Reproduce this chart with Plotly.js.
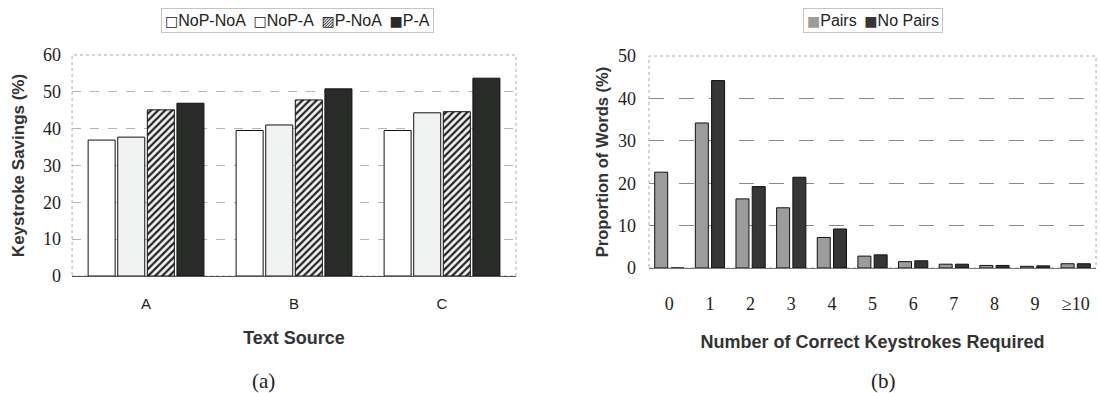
<!DOCTYPE html>
<html><head><meta charset="utf-8">
<script src="https://cdn.plot.ly/plotly-3.0.1.min.js"></script>
<style>html,body{margin:0;padding:0;background:#fff}#chart{width:1100px;height:393px}</style>
</head><body><div id="chart"></div>
<script>
// Panel (a): keystroke savings by text source
const sources = ['A', 'B', 'C'];
const seriesA = ['NoP-NoA', 'NoP-A', 'P-NoA', 'P-A'];
const nopNoa = [36.9, 39.5, 39.5];
const nopA = [37.7, 41.0, 44.3];
const pNoa = [45.1, 47.8, 44.6];
const pA = [46.9, 50.8, 53.7];
// Panel (b): proportion of words by correct keystrokes required
const keystrokes = ['0', '1', '2', '3', '4', '5', '6', '7', '8', '9', '≥10'];
const seriesB = ['Pairs', 'No Pairs'];
const pairs = [22.6, 34.2, 16.3, 14.2, 7.2, 2.8, 1.5, 0.9, 0.6, 0.4, 1.0];
const noPairs = [0, 44.2, 19.2, 21.4, 9.2, 3.1, 1.7, 0.9, 0.6, 0.5, 1.0];

const serif = 'Liberation Serif, Times New Roman, serif';
const sans = 'Liberation Sans, Arial, sans-serif';
const edge = {color: '#111', width: 1};

const colA = ['#ffffff', '#f1f3f3', '#ffffff', '#292b29'];
const colB = ['#9c9c9c', '#353735'];

const traces = [
  {type: 'bar', name: seriesA[0], x: sources, y: nopNoa, xaxis: 'x', yaxis: 'y', showlegend: false,
   marker: {color: colA[0], line: edge}},
  {type: 'bar', name: seriesA[1], x: sources, y: nopA, xaxis: 'x', yaxis: 'y', showlegend: false,
   marker: {color: colA[1], line: edge}},
  {type: 'bar', name: seriesA[2], x: sources, y: pNoa, xaxis: 'x', yaxis: 'y', showlegend: false,
   marker: {color: colA[2], line: edge, pattern: {shape: '/', fgcolor: '#222', bgcolor: '#f4f4f4', size: 5, solidity: 0.45}}},
  {type: 'bar', name: seriesA[3], x: sources, y: pA, xaxis: 'x', yaxis: 'y', showlegend: false,
   marker: {color: colA[3], line: edge}},
  {type: 'bar', name: seriesB[0], x: keystrokes, y: pairs, xaxis: 'x2', yaxis: 'y2', showlegend: false,
   marker: {color: colB[0], line: edge}},
  {type: 'bar', name: seriesB[1], x: keystrokes, y: noPairs, xaxis: 'x2', yaxis: 'y2', showlegend: false,
   marker: {color: colB[1], line: edge}}
];

const gapA = 0.27, gapB = 0.36;
traces.slice(0, 4).forEach(t => { t.width = (1 - gapA) / 4; });
traces.slice(4).forEach(t => { t.width = (1 - gapB) / 2; });

const box = (xr, yr) => ({type: 'rect', xref: xr + ' domain', yref: yr + ' domain', x0: 0, x1: 1, y0: 0, y1: 1,
  line: {color: '#aaa', width: 1, dash: 'dot'}, layer: 'below'});

const sp = '\u00a0\u2009';
const sq = (glyph, color) => '<span style="color:' + color + ';font-family:DejaVu Sans;font-size:14px">' + glyph + '</span>';
const legendA = sq('□', '#222') + seriesA[0] + sp + sq('□', '#222') + seriesA[1] + sp +
  sq('▨', '#222') + seriesA[2] + sp + sq('■', colA[3]) + seriesA[3];
const legendB = sq('■', colB[0]) + seriesB[0] + sp + sq('■', colB[1]) + seriesB[1];

const layout = {
  width: 1100, height: 393,
  margin: {l: 0, r: 0, t: 0, b: 0},
  paper_bgcolor: '#fff', plot_bgcolor: '#fff',
  barmode: 'group', bargroupgap: 0,
  showlegend: false,
  font: {family: sans, color: '#222'},
  xaxis: {domain: [0.0655, 0.4691], anchor: 'y', type: 'category',
    tickfont: {family: sans, size: 15, color: '#222'}, ticks: '', ticklabelstandoff: 14,
    showline: true, linecolor: '#555', linewidth: 1, showgrid: false,
    title: {text: '<b>Text Source</b>', font: {family: sans, size: 18, color: '#333'}, standoff: 20}},
  yaxis: {domain: [0.2977, 0.8601], anchor: 'x', range: [0, 60], dtick: 10,
    tickfont: {family: serif, size: 18, color: '#222'}, ticks: '', ticklabelstandoff: 10,
    showgrid: true, gridcolor: '#b5b5b5', griddash: 'dash', zeroline: false,
    title: {text: '<b>Keystroke Savings (%)</b>', font: {family: sans, size: 17, color: '#333'}, standoff: 14}},
  xaxis2: {domain: [0.59, 0.9964], anchor: 'y2', type: 'category',
    tickfont: {family: serif, size: 18, color: '#222'}, ticks: '', ticklabelstandoff: 19,
    showline: true, linecolor: '#777', linewidth: 1, showgrid: false,
    title: {text: '<b>Number of Correct Keystrokes Required</b>', font: {family: sans, size: 18, color: '#333'}, standoff: 22}},
  yaxis2: {domain: [0.3181, 0.8575], anchor: 'x2', range: [0, 50], dtick: 10,
    tickfont: {family: serif, size: 18, color: '#222'}, ticks: '', ticklabelstandoff: 12,
    showgrid: true, gridcolor: '#8a8a8a', griddash: 'longdash', zeroline: false,
    title: {text: '<b>Proportion of Words (%)</b>', font: {family: sans, size: 16.5, color: '#333'}, standoff: 5}},
  shapes: [box('x', 'y'), box('x2', 'y2')],
  annotations: [
    {text: legendA, xref: 'paper', yref: 'paper', x: 297 / 1100, y: 1 - 21 / 393, xanchor: 'center', yanchor: 'middle',
     showarrow: false, bordercolor: '#c4c4c4', borderwidth: 1, borderpad: 3, bgcolor: '#fff',
     font: {family: sans, size: 16, color: '#222'}},
    {text: legendB, xref: 'paper', yref: 'paper', x: 873 / 1100, y: 1 - 21 / 393, xanchor: 'center', yanchor: 'middle',
     showarrow: false, bordercolor: '#c4c4c4', borderwidth: 1, borderpad: 3, bgcolor: '#fff',
     font: {family: sans, size: 16, color: '#222'}},
    {text: '(a)', xref: 'paper', yref: 'paper', x: 263 / 1100, y: 1 - 381 / 393, xanchor: 'center', yanchor: 'middle',
     showarrow: false, font: {family: serif, size: 21, color: '#222'}},
    {text: '(b)', xref: 'paper', yref: 'paper', x: 883 / 1100, y: 1 - 381 / 393, xanchor: 'center', yanchor: 'middle',
     showarrow: false, font: {family: serif, size: 21, color: '#222'}}
  ]
};

Plotly.newPlot('chart', traces, layout, {displayModeBar: false, staticPlot: true});
</script></body></html>
